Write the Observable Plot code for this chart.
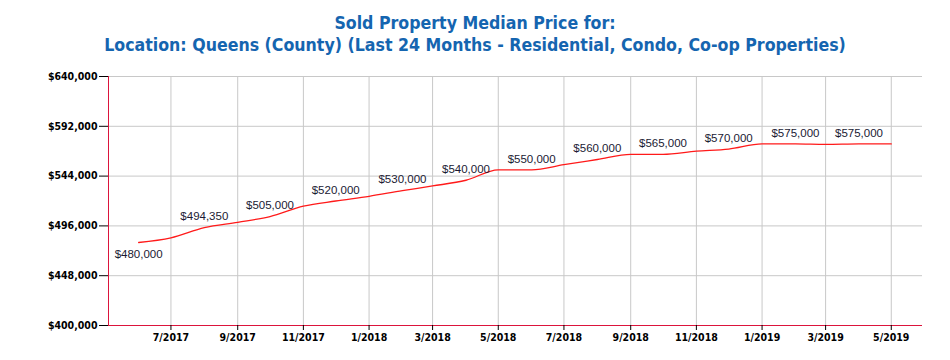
<!DOCTYPE html>
<html><head><meta charset="utf-8">
<script src="https://cdn.jsdelivr.net/npm/d3@7"></script>
<script src="https://cdn.jsdelivr.net/npm/@observablehq/plot@0.6"></script>
<style>
body{margin:0;background:#fff;}
#title{box-sizing:border-box;height:60px;width:950px;padding-top:12px;text-align:center;color:#1565b0;font-family:"DejaVu Sans Condensed";font-weight:bold;font-size:17.6px;line-height:22px;}
#chart svg{display:block;}
</style></head>
<body>
<div id="title">Sold Property Median Price for:<br>Location: Queens (County) (Last 24 Months - Residential, Condo, Co-op Properties)</div>
<div id="chart"></div>
<script>
const months = ["2017-06","2017-07","2017-08","2017-09","2017-10","2017-11","2017-12",
  "2018-01","2018-02","2018-03","2018-04","2018-05","2018-06","2018-07","2018-08","2018-09","2018-10","2018-11","2018-12",
  "2019-01","2019-02","2019-03","2019-04","2019-05"];
const prices = [480000,484500,494350,499500,505000,515000,520000,
  524500,530000,534500,540000,550000,550000,555000,560000,565000,565000,568000,570000,
  575000,575000,574500,575000,575000];
const yTicks = [400000,448000,496000,544000,592000,640000];
const xTicks = ["2017-07","2017-09","2017-11","2018-01","2018-03","2018-05","2018-07","2018-09","2018-11","2019-01","2019-03","2019-05"];
const xDomain = ["2017-05-04","2019-05-30"];

const data = months.map((m,i)=>({date:new Date(m+"-01"), price:prices[i], i}));
const labeled = data.filter(d=>d.i%2===0);
const xt = xTicks.map(m=>new Date(m+"-01"));
const money = d=>"$"+d3.format(",")(d);
const axisFont = "DejaVu Sans Condensed";

const chart = Plot.plot({
  width:950, height:300,
  marginLeft:108, marginRight:28, marginTop:16, marginBottom:35,
  x:{type:"utc", domain:xDomain.map(d=>new Date(d))},
  y:{domain:[400000,640000]},
  marks:[
    Plot.gridY(yTicks,{stroke:"#c8c8c8", strokeOpacity:1}),
    Plot.gridX(xt,{stroke:"#c8c8c8", strokeOpacity:1}),
    Plot.ruleX([new Date(xDomain[0])],{stroke:"#dc143c"}),
    Plot.ruleY([400000],{stroke:"#dc143c"}),
    Plot.axisY(yTicks,{tickFormat:money, tickSize:9, tickPadding:2, fontSize:10.5, fontWeight:"bold", fontFamily:axisFont, fill:"#000", stroke:"#000", label:null}),
    Plot.axisX(xt,{tickFormat:d=>`${d.getUTCMonth()+1}/${d.getUTCFullYear()}`, tickSize:5, tickPadding:3, fontSize:10.5, fontWeight:"bold", fontFamily:axisFont, fill:"#000", stroke:"#000", label:null}),
    Plot.lineY(data,{x:"date", y:"price", stroke:"#ff1a1a", strokeWidth:1.3, curve:"monotone-x"}),
    Plot.text(labeled.filter(d=>d.i===0),{x:"date", y:"price", text:d=>money(d.price), dy:12, fontSize:11.5, fontFamily:"Liberation Sans", fill:"#1a1a33"}),
    Plot.text(labeled.filter(d=>d.i>0),{x:"date", y:"price", text:d=>money(d.price), dy:-11, fontSize:11.5, fontFamily:"Liberation Sans", fill:"#1a1a33"})
  ]
});
document.getElementById("chart").appendChild(chart);
</script>
</body></html>
